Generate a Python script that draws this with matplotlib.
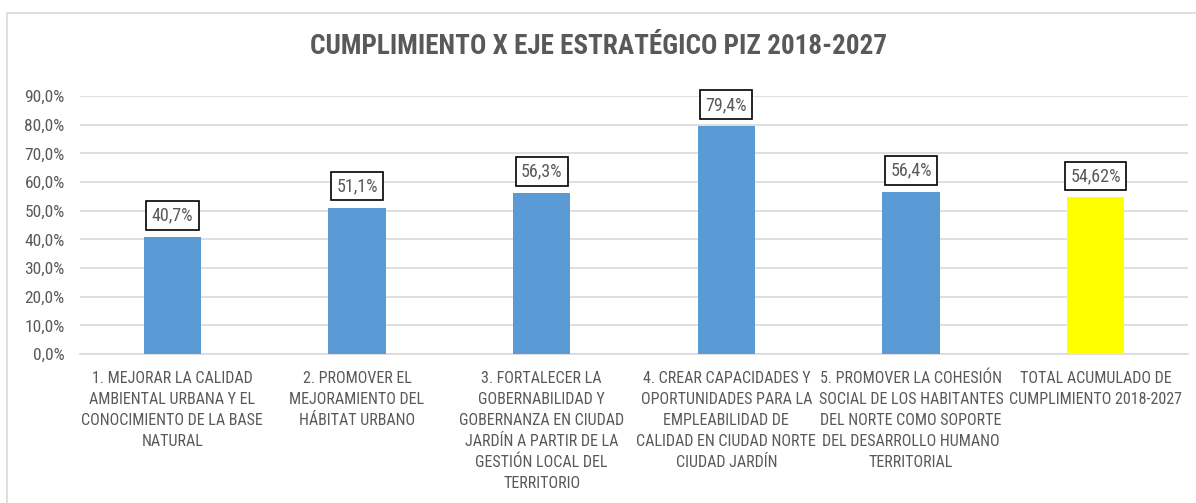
import matplotlib
matplotlib.use('Agg')
import matplotlib.pyplot as plt
from matplotlib.patches import Rectangle
from matplotlib.ticker import FuncFormatter

# datos del grafico
categorias = [
    '1. MEJORAR LA CALIDAD\nAMBIENTAL URBANA Y EL\nCONOCIMIENTO DE LA BASE\nNATURAL',
    '2. PROMOVER EL\nMEJORAMIENTO DEL\nHÁBITAT URBANO',
    '3. FORTALECER LA\nGOBERNABILIDAD Y\nGOBERNANZA EN CIUDAD\nJARDÍN A PARTIR DE LA\nGESTIÓN LOCAL DEL\nTERRITORIO',
    '4. CREAR CAPACIDADES Y\nOPORTUNIDADES PARA LA\nEMPLEABILIDAD DE\nCALIDAD EN CIUDAD NORTE\nCIUDAD JARDÍN',
    '5. PROMOVER LA COHESIÓN\nSOCIAL DE LOS HABITANTES\nDEL NORTE COMO SOPORTE\nDEL DESARROLLO HUMANO\nTERRITORIAL',
    'TOTAL ACUMULADO DE\nCUMPLIMIENTO 2018-2027',
]
valores = [0.407, 0.511, 0.563, 0.794, 0.564, 0.5462]
etiquetas = ['40,7%', '51,1%', '56,3%', '79,4%', '56,4%', '54,62%']
colores = ['#5B9BD5'] * 5 + ['#FFFF00']
yticks = [i / 10 for i in range(10)]

plt.rcParams['font.family'] = ['Roboto Condensed', 'DejaVu Sans']
gris = '#595959'

fig = plt.figure(figsize=(11.96, 5.03), dpi=100)
# borde del area del grafico
fig.patches.append(Rectangle((7 / 1196, -0.1), 1.2, 1 + 0.1 - 13 / 503,
                             transform=fig.transFigure, fill=False,
                             ec='#d9d9d9', lw=1.2))

ax = fig.add_axes([80 / 1196, 149 / 503, 1108 / 1196, 258 / 503])
x = list(range(len(valores)))
ax.bar(x, valores, width=0.31, color=colores, zorder=3)
ax.set_xlim(-0.5, len(valores) - 0.5)
ax.set_ylim(0, 0.9)
ax.set_yticks(yticks)
ax.yaxis.set_major_formatter(FuncFormatter(lambda v, p: f'{v * 100:.1f}%'.replace('.', ',')))
ax.grid(axis='y', color='#d9d9d9', lw=1.2, zorder=0)
for s in ['top', 'right', 'left']:
    ax.spines[s].set_visible(False)
ax.spines['bottom'].set_color('#d9d9d9')
ax.spines['bottom'].set_linewidth(1.2)
ax.tick_params(axis='both', length=0, colors=gris, labelsize=12.5)
ax.tick_params(axis='y', pad=11)
ax.tick_params(axis='x', pad=12)
ax.set_xticks(x)
ax.set_xticklabels(categorias, fontsize=11.5, color=gris, linespacing=1.5)

for xi, v, t in zip(x, valores, etiquetas):
    ax.annotate(t, (xi, v), xytext=(0, 9), textcoords='offset points',
                ha='center', va='bottom', fontsize=13, color=gris,
                bbox=dict(boxstyle='square,pad=0.3', fc='white', ec='black', lw=1.2),
                zorder=5)

fig.text(0.5, 1 - 47 / 503, 'CUMPLIMIENTO X EJE ESTRATÉGICO PIZ 2018-2027',
         ha='center', va='center', fontsize=19.5, fontweight='bold', color=gris)

fig.savefig('out.png', dpi=100)
